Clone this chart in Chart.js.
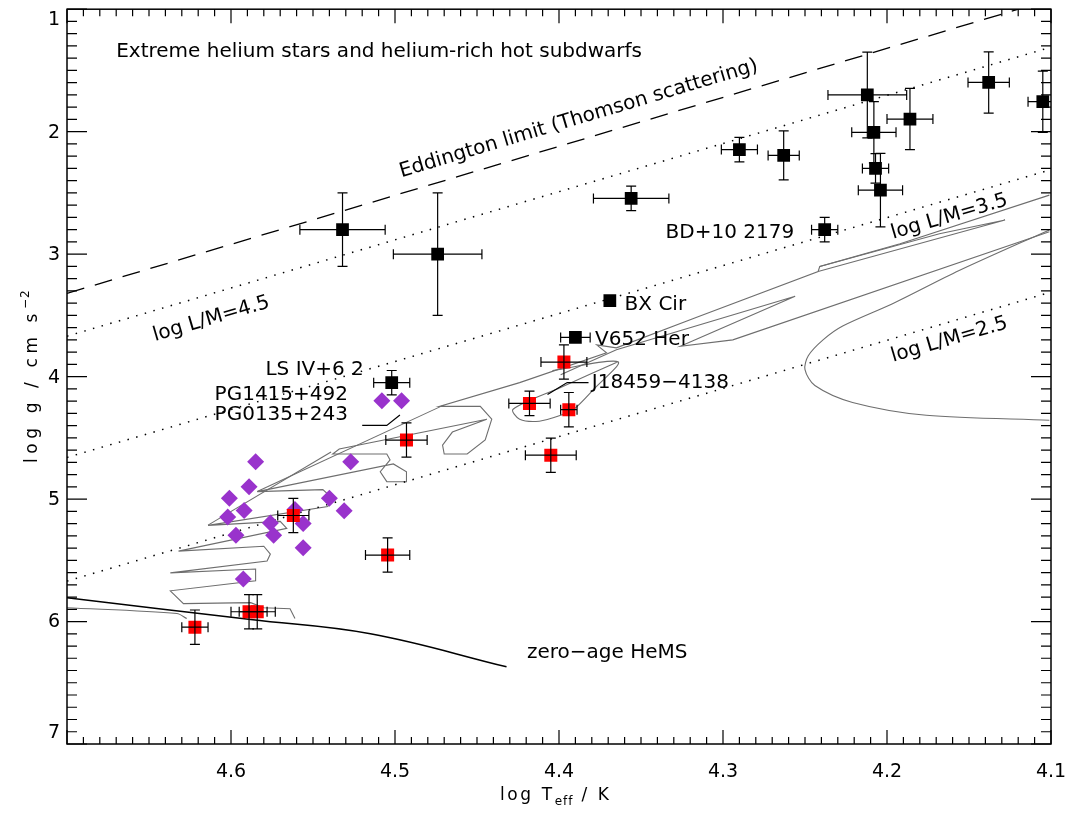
<!DOCTYPE html>
<html>
<head>
<meta charset="utf-8">
<script src="https://cdn.jsdelivr.net/npm/chart.js@4.4.1/dist/chart.umd.min.js"></script>
<style>
  html, body { margin: 0; padding: 0; background: #fff; }
  #wrap { position: relative; width: 1072px; height: 813px; }
</style>
</head>
<body>
<div id="wrap"><canvas id="kielChart"></canvas></div>
<script>
// Estrellas de helio extremo (cuadrados negros)
const eheLogT = [4.532, 4.474, 4.356, 4.369, 4.390, 4.502, 4.290, 4.263, 4.212, 4.208, 4.207, 4.204, 4.186, 4.138, 4.105, 4.238];
const eheLogg = [2.80, 3.00, 2.545, 3.38, 3.68, 4.05, 2.146, 2.194, 1.70, 2.005, 2.30, 2.478, 1.897, 1.598, 1.755, 2.80];
const eheErrT = [0.026, 0.027, 0.023, 0, 0.009, 0.011, 0.011, 0.0095, 0.024, 0.0135, 0.008, 0.0135, 0.014, 0.0126, 0.009, 0.008];
const eheErrG = [0.30, 0.50, 0.10, 0, 0, 0.10, 0.10, 0.20, 0.35, 0.25, 0.12, 0.30, 0.25, 0.25, 0.25, 0.10];

// Subenanas He-sdO (cuadrados rojos)
const sdoLogT = [4.397, 4.418, 4.394, 4.493, 4.405, 4.5045, 4.562, 4.622, 4.589, 4.584];
const sdoLogg = [3.881, 4.219, 4.27, 4.518, 4.642, 5.457, 5.134, 6.046, 5.92, 5.92];
const sdoErrT = [0.014, 0.0126, 0.005, 0.0126, 0.0155, 0.0135, 0.0095, 0.008, 0.011, 0.011];
const sdoErrG = [0.14, 0.10, 0.14, 0.14, 0.14, 0.14, 0.14, 0.14, 0.14, 0.14];

// Subenanas He-sdB (rombos morados)
const sdbLogT = [4.508, 4.496, 4.527, 4.531, 4.585, 4.589, 4.601, 4.592, 4.602, 4.576, 4.597, 4.574, 4.556, 4.540, 4.556, 4.5925, 4.561];
const sdbLogg = [4.197, 4.197, 4.696, 5.096, 4.696, 4.899, 4.993, 5.093, 5.147, 5.196, 5.296, 5.296, 5.20, 4.993, 5.398, 5.652, 5.085];

// Limite de Eddington y lineas de L/M constante
const limLogT = [4.70, 4.10];
const eddLogg = [3.32, 0.92];
const lm45Logg = [3.67, 1.31];
const lm35Logg = [4.66, 2.31];
const lm25Logg = [5.67, 3.31];

// Secuencia principal de helio de edad cero
const zamsLogT = [4.700, 4.588, 4.515, 4.432];
const zamsLogg = [5.806, 5.984, 6.100, 6.370];

// Trazas evolutivas
const track1LogT = [4.101, 4.176, 4.221, 4.244, 4.250, 4.248, 4.239, 4.227, 4.196, 4.156, 4.101];
const track1Logg = [4.356, 4.316, 4.211, 4.073, 3.943, 3.830, 3.700, 3.587, 3.401, 3.134, 2.802];
const track2LogT = [4.101, 4.192, 4.241, 4.242, 4.314, 4.365, 4.377, 4.371, 4.424, 4.473, 4.448, 4.441, 4.445, 4.456, 4.470, 4.471, 4.465, 4.444, 4.534, 4.538, 4.505, 4.503, 4.509, 4.505, 4.493, 4.493, 4.501, 4.584, 4.544, 4.538, 4.541, 4.614, 4.570, 4.566, 4.632, 4.580, 4.576, 4.578, 4.637, 4.585, 4.585, 4.637, 4.629, 4.588, 4.580, 4.564, 4.561];
const track2Logg = [2.518, 2.915, 3.101, 3.142, 3.506, 3.765, 3.741, 3.806, 4.049, 4.243, 4.243, 4.348, 4.518, 4.632, 4.632, 4.559, 4.453, 4.348, 4.591, 4.632, 4.632, 4.680, 4.777, 4.858, 4.858, 4.777, 4.713, 4.939, 4.923, 4.996, 5.061, 5.215, 5.182, 5.239, 5.425, 5.385, 5.449, 5.506, 5.603, 5.571, 5.668, 5.749, 5.854, 5.846, 5.887, 5.895, 5.976];
const track3LogT = [4.242, 4.128, 4.168, 4.241];
const track3Logg = [3.142, 2.721, 2.834, 3.101];
const track4LogT = [4.101, 4.294, 4.326, 4.270, 4.256, 4.365, 4.399];
const track4Logg = [2.818, 3.700, 3.753, 3.425, 3.344, 3.781, 3.984];
const track5LogT = [4.404, 4.364, 4.379, 4.391, 4.399, 4.412, 4.424, 4.428, 4.399, 4.364];
const track5Logg = [3.951, 3.879, 4.105, 4.267, 4.316, 4.364, 4.348, 4.267, 4.089, 3.879];
const track6LogT = [4.700, 4.633, 4.627];
const track6Logg = [5.887, 5.935, 5.976];
const track7LogT = [4.584, 4.471];
const track7Logg = [4.939, 4.237];
const track8LogT = [4.614, 4.539];
const track8Logg = [5.213, 4.616];

// Lineas de referencia de las etiquetas
const leadJLogT = [4.382, 4.395, 4.407];
const leadJLogg = [4.049, 4.049, 4.146];
const leadPGLogT = [4.520, 4.505, 4.497];
const leadPGLogg = [4.399, 4.399, 4.313];

// Etiquetas de los ejes
const xTickValues = [4.6, 4.5, 4.4, 4.3, 4.2, 4.1];
const xTickLabels = ['4.6', '4.5', '4.4', '4.3', '4.2', '4.1'];
const yTickValues = [1, 2, 3, 4, 5, 6, 7];
const yTickLabels = ['1', '2', '3', '4', '5', '6', '7'];

const plotFont = "'DejaVu Sans', sans-serif";
const trackGray = '#6e6e6e';

// Textos anclados en coordenadas de datos
const notes = [
    { text: 'Extreme helium stars and helium-rich hot subdwarfs', x: 4.670, y: 1.344 },
    { text: 'BD+10 2179', x: 4.335, y: 2.826 },
    { text: 'BX Cir', x: 4.360, y: 3.417 },
    { text: 'V652 Her', x: 4.378, y: 3.700 },
    { text: 'J18459\u22124138', x: 4.380, y: 4.049 },
    { text: 'LS IV+6 2', x: 4.579, y: 3.943 },
    { text: 'PG1415+492', x: 4.610, y: 4.146 },
    { text: 'PG0135+243', x: 4.610, y: 4.312 },
    { text: 'zero\u2212age HeMS', x: 4.4195, y: 6.255 }
];
const slantedNotes = [
    { text: 'Eddington limit (Thomson scattering)', x: 4.388, y: 1.895, line: eddLogg },
    { text: 'log L/M=4.5', x: 4.612, y: 3.530, line: lm45Logg },
    { text: 'log L/M=3.5', x: 4.162, y: 2.696, line: lm35Logg },
    { text: 'log L/M=2.5', x: 4.162, y: 3.700, line: lm25Logg }
];

function pts(xs, ys) {
    return xs.map(function(x, i) { return { x: x, y: ys[i] }; });
}

function lineSet(xs, ys, color, width, dash, order, tension) {
    return {
        data: pts(xs, ys),
        showLine: true,
        borderColor: color,
        borderWidth: width,
        borderDash: dash || [],
        tension: tension || 0,
        pointRadius: 0,
        fill: false,
        order: order
    };
}

// Barras de error
const errorBars = {
    id: 'errorBars',
    afterDatasetsDraw(chart) {
        const ctx = chart.ctx, xs = chart.scales.x, ys = chart.scales.y, a = chart.chartArea;
        const cap = 5;
        ctx.save();
        ctx.beginPath();
        ctx.rect(a.left, a.top, a.right - a.left, a.bottom - a.top);
        ctx.clip();
        ctx.strokeStyle = '#000';
        ctx.lineWidth = 1.2;
        chart.data.datasets.forEach(function(ds) {
            if (!ds.errT) return;
            ds.data.forEach(function(p, i) {
                const px = xs.getPixelForValue(p.x), py = ys.getPixelForValue(p.y);
                const et = ds.errT[i], eg = ds.errG[i];
                ctx.beginPath();
                if (et > 0) {
                    const x1 = xs.getPixelForValue(p.x - et), x2 = xs.getPixelForValue(p.x + et);
                    ctx.moveTo(x1, py); ctx.lineTo(x2, py);
                    ctx.moveTo(x1, py - cap); ctx.lineTo(x1, py + cap);
                    ctx.moveTo(x2, py - cap); ctx.lineTo(x2, py + cap);
                }
                if (eg > 0) {
                    const y1 = ys.getPixelForValue(p.y - eg), y2 = ys.getPixelForValue(p.y + eg);
                    ctx.moveTo(px, y1); ctx.lineTo(px, y2);
                    ctx.moveTo(px - cap, y1); ctx.lineTo(px + cap, y1);
                    ctx.moveTo(px - cap, y2); ctx.lineTo(px + cap, y2);
                }
                ctx.stroke();
            });
        });
        ctx.restore();
    }
};

// Marco, marcas hacia dentro, etiquetas y textos
const frameAndText = {
    id: 'frameAndText',
    afterDraw(chart) {
        const ctx = chart.ctx, xs = chart.scales.x, ys = chart.scales.y, a = chart.chartArea;
        ctx.save();
        ctx.strokeStyle = '#000';
        ctx.lineWidth = 1.5;
        ctx.strokeRect(a.left, a.top, a.right - a.left, a.bottom - a.top);

        ctx.lineWidth = 1.2;
        ctx.beginPath();
        for (let i = 410; i <= 470; i++) {
            const px = xs.getPixelForValue(i / 100);
            const len = (i % 10 === 0) ? 14 : 7;
            ctx.moveTo(px, a.bottom); ctx.lineTo(px, a.bottom - len);
            ctx.moveTo(px, a.top); ctx.lineTo(px, a.top + len);
        }
        for (let j = 10; j <= 70; j++) {
            const py = ys.getPixelForValue(j / 10);
            const len = (j % 10 === 0) ? 20 : 10;
            ctx.moveTo(a.left, py); ctx.lineTo(a.left + len, py);
            ctx.moveTo(a.right, py); ctx.lineTo(a.right - len, py);
        }
        ctx.stroke();

        ctx.fillStyle = '#000';
        ctx.font = '19px ' + plotFont;
        ctx.textAlign = 'center';
        ctx.textBaseline = 'alphabetic';
        xTickValues.forEach(function(v, i) {
            ctx.fillText(xTickLabels[i], xs.getPixelForValue(v), a.bottom + 33);
        });
        ctx.textAlign = 'right';
        ctx.textBaseline = 'middle';
        yTickValues.forEach(function(v, i) {
            let py = ys.getPixelForValue(v);
            py = Math.min(Math.max(py, a.top + 10), a.bottom - 12);
            ctx.fillText(yTickLabels[i], a.left - 7, py + 1);
        });

        // Titulo del eje x
        ctx.textAlign = 'left';
        ctx.textBaseline = 'alphabetic';
        ctx.letterSpacing = '2.6px';
        let cx = 500;
        ctx.font = '17px ' + plotFont;
        ctx.fillText('log T', cx, 800);
        cx += ctx.measureText('log T').width;
        ctx.font = '12px ' + plotFont;
        ctx.letterSpacing = '1px';
        ctx.fillText('eff', cx, 805);
        cx += ctx.measureText('eff').width;
        ctx.font = '17px ' + plotFont;
        ctx.letterSpacing = '2.6px';
        ctx.fillText(' / K', cx, 800);

        // Titulo del eje y
        ctx.save();
        ctx.translate(37, 463);
        ctx.rotate(-Math.PI / 2);
        ctx.letterSpacing = '4.6px';
        ctx.font = '17px ' + plotFont;
        ctx.fillText('log g / cm s', 0, 0);
        const w = ctx.measureText('log g / cm s').width;
        ctx.font = '12px ' + plotFont;
        ctx.letterSpacing = '1px';
        ctx.fillText('\u22122', w, -8);
        ctx.restore();

        ctx.letterSpacing = '0px';
        ctx.font = '20px ' + plotFont;
        ctx.textAlign = 'left';
        ctx.textBaseline = 'middle';
        notes.forEach(function(n) {
            ctx.fillText(n.text, xs.getPixelForValue(n.x), ys.getPixelForValue(n.y));
        });
        ctx.textAlign = 'center';
        slantedNotes.forEach(function(n) {
            const x1 = xs.getPixelForValue(limLogT[0]), y1 = ys.getPixelForValue(n.line[0]);
            const x2 = xs.getPixelForValue(limLogT[1]), y2 = ys.getPixelForValue(n.line[1]);
            ctx.save();
            ctx.translate(xs.getPixelForValue(n.x), ys.getPixelForValue(n.y));
            ctx.rotate(Math.atan2(y2 - y1, x2 - x1));
            ctx.fillText(n.text, 0, 0);
            ctx.restore();
        });
        ctx.restore();
    }
};

document.addEventListener('DOMContentLoaded', function() {
    const ctx = document.getElementById('kielChart');
    new Chart(ctx, {
        type: 'scatter',
        data: {
            datasets: [
                {
                    data: pts(eheLogT, eheLogg), errT: eheErrT, errG: eheErrG,
                    pointStyle: 'rect', pointRadius: 9, backgroundColor: '#000', borderColor: '#000', borderWidth: 0, order: 1
                },
                {
                    data: pts(sdoLogT, sdoLogg), errT: sdoErrT, errG: sdoErrG,
                    pointStyle: 'rect', pointRadius: 9.2, backgroundColor: '#ff0000', borderColor: '#ff0000', borderWidth: 0, order: 2
                },
                {
                    data: pts(sdbLogT, sdbLogg),
                    pointStyle: 'rectRot', pointRadius: 8.5, backgroundColor: '#9933cc', borderColor: '#9933cc', borderWidth: 0, order: 3
                },
                lineSet(zamsLogT, zamsLogg, '#000', 1.5, null, 4, 0.4),
                lineSet(limLogT, eddLogg, '#000', 1.3, [18, 11], 5),
                lineSet(limLogT, lm45Logg, '#000', 1.5, [1.5, 7.5], 6),
                lineSet(limLogT, lm35Logg, '#000', 1.5, [1.5, 7.5], 7),
                lineSet(limLogT, lm25Logg, '#000', 1.5, [1.5, 7.5], 8),
                lineSet(leadJLogT, leadJLogg, '#000', 1.2, null, 9),
                lineSet(leadPGLogT, leadPGLogg, '#000', 1.2, null, 10),
                lineSet(track1LogT, track1Logg, trackGray, 1.1, null, 11, 0.3),
                lineSet(track2LogT, track2Logg, trackGray, 1.1, null, 12),
                lineSet(track3LogT, track3Logg, trackGray, 1.1, null, 13),
                lineSet(track4LogT, track4Logg, trackGray, 1.1, null, 14),
                lineSet(track5LogT, track5Logg, trackGray, 1.1, null, 15, 0.3),
                lineSet(track6LogT, track6Logg, trackGray, 1.1, null, 16, 0.3),
                lineSet(track7LogT, track7Logg, trackGray, 1.1, null, 17),
                lineSet(track8LogT, track8Logg, trackGray, 1.1, null, 18)
            ]
        },
        options: {
            responsive: true,
            maintainAspectRatio: false,
            animation: false,
            events: [],
            layout: { padding: { top: 3, right: 21, bottom: 0, left: 0 } },
            plugins: { legend: { display: false }, tooltip: { enabled: false } },
            scales: {
                x: {
                    type: 'linear', reverse: true, min: 4.1, max: 4.7,
                    ticks: { display: false }, grid: { display: false }, border: { display: false },
                    afterFit: function(s) { s.height = 69; }
                },
                y: {
                    type: 'linear', reverse: true, min: 1, max: 7,
                    ticks: { display: false }, grid: { display: false }, border: { display: false },
                    afterFit: function(s) { s.width = 67; }
                }
            }
        },
        plugins: [errorBars, frameAndText]
    });
});
</script>
</body>
</html>
